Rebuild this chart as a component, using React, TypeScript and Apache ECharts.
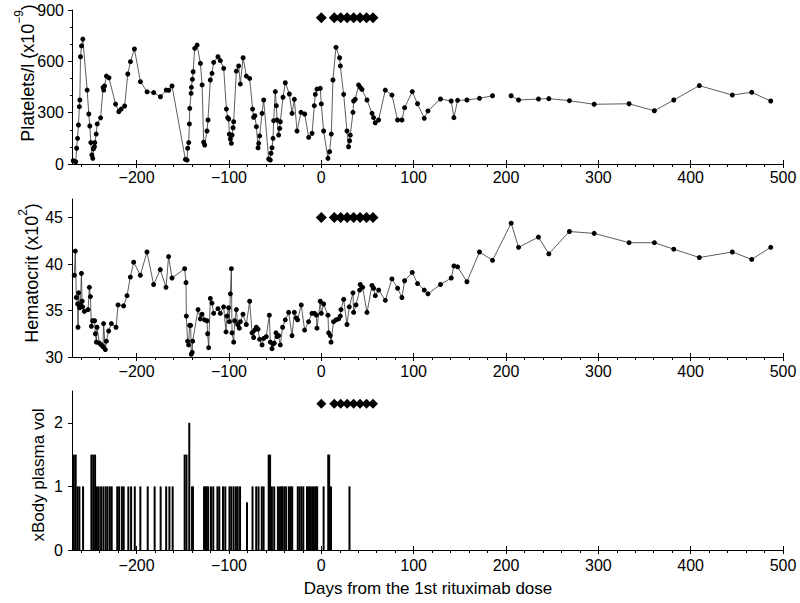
import React, { useEffect, useRef } from "react";
import * as echarts from "echarts";

const FONT = '"Liberation Sans", Arial, Helvetica, sans-serif';

// Platelets (x10^-9 /l) — day from 1st rituximab dose, value (null = gap in line)
const PLT_DAYS = [
  -268.7, -266, -265, -264, -263, -262, -261.5, -260.8, -259.7, -258.3,
  -253.6, -251.8, -250.7, -249.6, -248.5, -247.5, -246.8, -245.7, -245.3, -243.8,
  -242.7, -239, -236.3, -235.6, -234.8, -232.7, -230, -222.8, -219.3, -216.7,
  -213, -209.6, -206.7, -202.4, -195.9, -188.7, -181.5, -174.2, -168, -165.3,
  -161.7, -147.2, -145.3, -144.7, -143.6, -142.9, -142.5, -141, -140.7, -139.6,
  -138.8, -137.1, -134.5, -130.9, -129.1, -127.4, -126.3, -123.8, -122.7, -120.2,
  -118.4, -116.6, -111.9, -109.4, -105.7, -102.8, -101.4, -100.3, -99.6, -98.5,
  -97.4, -96.6, -95.6, -94.9, -92, -89.5, -87.7, -84.7, -81.2, -77.6,
  -74.4, -73.3, -72, -70.3, -68.5, -67.8, -66.8, -64.2, -62.4, -57,
  -55.2, -54.5, -53.4, -52.3, -51.6, -49.8, -48.7, -47.9, -46.2, -45.1,
  -44.4, -41.5, -39, -34.6, -31.7, -29.2, -26.3, -22, -18, -13.7,
  -10, -7.6, -6.5, -4.7, -1.1, 0, 2.5, 7.2, 9, 10.8,
  12.6, 15.9, 19.8, 20.6, 24.2, 27.8, 29.5, 30.6, 31.4, 34.3,
  35, 36.8, 40.4, 42.2, 44, 49.5, 54.9, 56.6, 58.4, 62,
  69.3, 76.5, 82.6, 87.3, 90.2, 98.5, 104.2, 111.5, 115.5, 129.1,
  140.7, 143.6, 147.6, 157.7, 171.3, 185.4, 195, 205.6, 213.6, 235.2,
  246.4, 268.7, 295.5, 333.3, 360.7, 381.7, 409.4, 445.1, 466.1, 486.7,
];
const PLT_VALUES = [
  19, 13, 92, 150, 228, 335, 374, 627, 690, 730,
  432, 292, 222, 125, 53, 33, 88, 101, 125, 175,
  234, 270, 448, 432, 456, 514, 504, 350, 306, 321,
  339, 526, 598, 672, 481, 422, 417, 393, 432, 431,
  456, 27, 23, 92, 125, 234, 325, 413, 448, 495,
  539, 676, 695, 588, 462, 127, 111, 193, 257, 491,
  530, 594, 627, 604, 559, 321, 271, 263, 174, 146,
  121, 169, 212, 247, 543, 573, 467, 621, 514, 500,
  321, 273, 282, 218, 95, 121, 164, 296, 374, 29,
  23, 63, 95, 150, 253, 423, 341, 257, 169, 208,
  247, 390, 475, 409, 296, 378, 193, 302, 292, 156,
  179, 341, 407, 438, 442, 351, 193, 33, 72, 175,
  491, 682, 621, 573, 407, 193, 101, 136, 169, 302,
  368, 378, 462, 448, 436, 374, 296, 271, 241, 257,
  432, 403, 257, 257, 329, 423, 352, 267, 310, 380,
  368, 271, 372, 374, 384, 399, null, 399, 374, 380,
  382, 370, 349, 352, 311, 374, 458, 403, 419, 368,
];

// Hematocrit (x10^2)
const HCT_DAYS = [
  -267.5, -266.4, -265.3, -263.9, -263.5, -262.8, -261.7, -260.9, -259.8, -259.1,
  -258.4, -256.6, -252.6, -251.2, -250.1, -249, -247.6, -245.5, -244.7, -243.6,
  -242.9, -240.4, -238.2, -236.4, -235.8, -233.9, -232.8, -230.3, -227.4, -222.3,
  -220.1, -214.1, -210.4, -206.8, -203.2, -196, -188.8, -181.6, -174.4, -168.2,
  -165.4, -161.7, -148, -146.5, -146.2, -144.8, -143.7, -142.6, -141.5, -140.8,
  -139.8, -139.3, -133.5, -131, -129.2, -126.4, -123.8, -123.1, -122, -120.2,
  -118.4, -116.6, -111.9, -109.4, -105.8, -103.2, -102.1, -100.4, -99.6, -98.5,
  -97.4, -96.7, -94.9, -93.8, -92, -90.6, -88.8, -87.7, -84.8, -81.2,
  -77.6, -75, -73.3, -72.2, -70.4, -68.5, -66.8, -64.2, -62.4, -59.6,
  -56.3, -55.2, -53.4, -52.3, -50.9, -49.1, -48, -46.2, -44.4, -41.9,
  -39, -35.4, -31.7, -29.2, -27.1, -25.7, -21.7, -18.1, -13.8, -10.1,
  -7.3, -5.4, -4.7, -1.1, 0, 2.5, 7.2, 7.9, 9.7, 10.5,
  13.3, 15.9, 18.7, 20.6, 21.3, 24.2, 27.8, 30.3, 34.3, 35,
  37.6, 41.5, 42.2, 44.7, 49.5, 54.9, 56.6, 58.5, 62.1, 69.3,
  76.5, 82.6, 87.3, 90.2, 98.5, 104.2, 111.5, 115.5, 129.1, 140.7,
  143.6, 147.6, 157.7, 171.3, 185.4, 205.6, 213.6, 235.2, 246.4, 268.7,
  295.5, 333.3, 360.7, 381.7, 409.4, 445.1, 466.1, 486.7,
];
const HCT_VALUES = [
  38.8, 41.4, 36.4, 35.7, 33.2, 36.9, 35.3, 35.6, 39.0, 36.0,
  35.4, 34.9, 35.1, 37.5, 36.5, 33.3, 33.9, 33.9, 32.5, 31.6,
  33.2, 31.5, 31.3, 31.1, 33.6, 30.8, 31.7, 32.8, 33.6, 33.2,
  35.6, 35.5, 36.6, 38.6, 40.2, 38.8, 41.3, 37.8, 39.4, 37.5,
  40.8, 38.5, 39.5, 38.0, 34.4, 31.7, 31.3, 33.4, 33.4, 30.3,
  30.5, 31.7, 35.1, 34.1, 34.6, 34.0, 33.9, 32.5, 31.0, 36.3,
  35.8, 34.7, 35.2, 34.7, 35.4, 32.7, 34.4, 35.3, 33.8, 36.8,
  39.5, 32.6, 31.6, 33.9, 35.1, 33.5, 33.1, 33.8, 34.6, 33.5,
  36.0, 32.6, 32.1, 32.9, 33.2, 33.0, 31.9, 31.3, 32.0, 32.2,
  34.5, 31.6, 30.9, 31.4, 31.5, 32.6, 32.2, 32.3, 31.3, 33.2,
  34.0, 34.8, 32.3, 34.8, 34.2, 34.0, 35.6, 32.9, 33.8, 34.7,
  34.7, 34.5, 33.1, 36.0, 34.7, 35.7, 34.5, 32.6, 32.3, 31.6,
  33.8, 34.0, 34.1, 34.4, 35.1, 36.2, 33.5, 35.4, 36.9, 34.8,
  35.6, 37.2, 37.8, 37.5, 34.8, 37.7, 37.4, 36.6, 37.2, 36.1,
  38.4, 37.4, 36.4, 38.2, 39.1, 37.9, 37.2, 36.8, 37.8, 38.5,
  39.8, 39.7, 38.1, 41.3, 40.4, 44.4, 41.8, 42.9, 41.1, 43.5,
  43.3, 42.3, 42.3, 41.6, 40.7, 41.3, 40.5, 41.8,
];

// Plasma exchange volume (x body plasma volume)
const PEX_DAYS = [
  -268, -266, -264, -262, -258, -249, -247, -245, -243, -241,
  -238.5, -236, -233.5, -231.5, -229, -227, -221, -219, -216, -214,
  -209, -206, -202, -196, -188, -180.5, -174, -168, -164.5, -161,
  -148, -146, -143, -140, -139, -127, -125.5, -124, -122.5, -119.5,
  -117, -112.5, -110.5, -106.5, -104, -99.5, -97.5, -95, -92.5, -90.5,
  -88, -80.5, -74.5, -70.5, -68, -64.5, -62.5, -57, -55.5, -53.5,
  -51, -47, -45, -43.5, -42, -40, -38, -35, -33, -31.5,
  -25.5, -23.5, -21.5, -19.5, -15.5, -13.5, -12, -10, -8, -6,
  -4.5, 2.5, 7.5, 8.5, 10.5, 30.5,
];
const PEX_VALUES = [
  1.5, 1.5, 1, 1, 1, 1.5, 1.5, 1.5, 1, 1,
  1, 1, 1, 1, 1, 1, 1, 1, 1, 1,
  1, 1, 1, 1, 1, 1, 1, 1, 1, 1,
  1.5, 1.5, 2, 1, 1, 1, 1, 1, 1, 1,
  1, 1, 1, 1, 1, 1, 1, 1, 1, 1,
  1, 0.75, 1, 1, 1, 1, 1, 1.5, 1.5, 1,
  1, 1, 1, 1, 1, 1, 1, 1, 1, 1,
  1, 1, 1, 1, 1, 1, 1, 1, 1, 1,
  1, 1, 1.5, 1.5, 1, 1,
];

// Rituximab doses (marker rows)
const DOSE_DAYS = [0, 14, 21, 28, 35, 42, 49, 56];
const DOSE_Y_PLT = 855;
const DOSE_Y_HCT = 45;
const DOSE_Y_PEX = 2.3;

// Axis ticks
const X_TICKS = [-200, -100, 0, 100, 200, 300, 400, 500];
const X_MINOR = [
  -260, -240, -220, -180, -160, -140, -120, -80, -60, -40, -20,
  20, 40, 60, 80, 120, 140, 160, 180, 220, 240, 260, 280,
  320, 340, 360, 380, 420, 440, 460, 480,
];
const HCT_TICKS = [30, 35, 40, 45];
const PEX_TICKS = [0, 1, 2];

const X_MIN = -270;
const X_MAX = 500;

function xAxesFor(gridIndex: number, labelMargin: number) {
  const base = {
    type: "value" as const,
    gridIndex,
    min: X_MIN,
    max: X_MAX,
    position: "bottom" as const,
    splitLine: { show: false },
  };
  return [
    {
      ...base,
      axisLine: { show: true, onZero: false, lineStyle: { color: "#000", width: 1 } },
      axisTick: { show: true, customValues: X_TICKS, length: 4, lineStyle: { color: "#000" } },
      axisLabel: {
        customValues: X_TICKS,
        formatter: (v: number) => String(v).replace("-", "\u2212"),
        fontSize: 16,
        fontFamily: FONT,
        color: "#000",
        margin: labelMargin,
      },
    },
    {
      ...base,
      axisLine: { show: false, onZero: false },
      axisLabel: { show: false },
      axisTick: { show: true, inside: true, customValues: X_TICKS, length: 4, lineStyle: { color: "#000" } },
    },
    {
      ...base,
      axisLine: { show: false, onZero: false },
      axisLabel: { show: false },
      axisTick: { show: true, customValues: X_MINOR, length: 3, lineStyle: { color: "#000" } },
    },
  ];
}

const pair = (days: number[], vals: (number | null)[]) =>
  days.map((d, i) => [d, vals[i] === null ? "-" : vals[i]]);

const doseData = (y: number) => DOSE_DAYS.map((d) => [d, y]);

export default function App() {
  const ref = useRef<HTMLDivElement>(null);

  useEffect(() => {
    if (!ref.current) return;
    const chart = echarts.init(ref.current, undefined, { renderer: "svg" });

    const yLabel = { fontSize: 16, fontFamily: FONT, color: "#000" };
    const yLine = { show: true, onZero: false, lineStyle: { color: "#000", width: 1 } };
    const diamondStyle = { color: "#000", opacity: 1 };

    const option: any = {
      animation: false,
      backgroundColor: "#fff",
      grid: [
        { left: 72, right: 17, top: 10, height: 154, outerBoundsMode: "none" },
        { left: 72, right: 17, top: 199, height: 158, outerBoundsMode: "none" },
        { left: 72, right: 17, top: 391, height: 159, outerBoundsMode: "none" },
      ],
      xAxis: [...xAxesFor(0, 5), ...xAxesFor(1, 6), ...xAxesFor(2, 7)],
      yAxis: [
        {
          type: "value",
          gridIndex: 0,
          min: 0,
          max: 900,
          interval: 300,
          axisLine: yLine,
          axisTick: { show: true, length: 4, lineStyle: { color: "#000" } },
          minorTick: { show: true, splitNumber: 3, length: 2, lineStyle: { color: "#000" } },
          axisLabel: { ...yLabel, margin: 8 },
          splitLine: { show: false },
          minorSplitLine: { show: false },
        },
        {
          type: "value",
          gridIndex: 1,
          min: 30,
          max: 47,
          axisLine: yLine,
          axisTick: { show: true, customValues: HCT_TICKS, length: 4, lineStyle: { color: "#000" } },
          axisLabel: { ...yLabel, customValues: HCT_TICKS, margin: 9 },
          splitLine: { show: false },
        },
        {
          type: "value",
          gridIndex: 2,
          min: 0,
          max: 2.5,
          axisLine: yLine,
          axisTick: { show: true, customValues: PEX_TICKS, length: 4, lineStyle: { color: "#000" } },
          axisLabel: { ...yLabel, customValues: PEX_TICKS, margin: 9 },
          splitLine: { show: false },
        },
      ],
      series: [
        {
          type: "line",
          xAxisIndex: 0,
          yAxisIndex: 0,
          data: pair(PLT_DAYS, PLT_VALUES),
          connectNulls: false,
          symbol: "circle",
          symbolSize: 5,
          itemStyle: { color: "#000", opacity: 1 },
          lineStyle: { color: "#333", width: 0.8 },
        },
        {
          type: "scatter",
          xAxisIndex: 0,
          yAxisIndex: 0,
          data: doseData(DOSE_Y_PLT),
          symbol: "diamond",
          symbolSize: [11, 11],
          itemStyle: diamondStyle,
        },
        {
          type: "line",
          xAxisIndex: 3,
          yAxisIndex: 1,
          data: pair(HCT_DAYS, HCT_VALUES),
          symbol: "circle",
          symbolSize: 5,
          itemStyle: { color: "#000", opacity: 1 },
          lineStyle: { color: "#333", width: 0.8 },
        },
        {
          type: "scatter",
          xAxisIndex: 3,
          yAxisIndex: 1,
          data: doseData(DOSE_Y_HCT),
          symbol: "diamond",
          symbolSize: [11, 11],
          itemStyle: diamondStyle,
        },
        {
          type: "bar",
          xAxisIndex: 6,
          yAxisIndex: 2,
          data: pair(PEX_DAYS, PEX_VALUES),
          barWidth: 2,
          itemStyle: { color: "#000" },
        },
        {
          type: "scatter",
          xAxisIndex: 6,
          yAxisIndex: 2,
          data: doseData(DOSE_Y_PEX),
          symbol: "diamond",
          symbolSize: [10, 10],
          itemStyle: diamondStyle,
        },
      ],
      graphic: [
        {
          type: "text",
          x: 25,
          y: 73,
          rotation: Math.PI / 2,
          style: {
            text: "{n|Platelets/l (x10}{s|\u22129}{n|)}",
            align: "center",
            verticalAlign: "middle",
            fill: "#000",
            rich: {
              n: { fontSize: 18, fontFamily: FONT, fill: "#000", lineHeight: 24, verticalAlign: "bottom" },
              s: { fontSize: 12, fontFamily: FONT, fill: "#000", lineHeight: 12, verticalAlign: "top" },
            },
          },
        },
        {
          type: "text",
          x: 29,
          y: 273,
          rotation: Math.PI / 2,
          style: {
            text: "{n|Hematocrit (x10}{s|2}{n|)}",
            align: "center",
            verticalAlign: "middle",
            fill: "#000",
            rich: {
              n: { fontSize: 18, fontFamily: FONT, fill: "#000", lineHeight: 24, verticalAlign: "bottom" },
              s: { fontSize: 12, fontFamily: FONT, fill: "#000", lineHeight: 12, verticalAlign: "top" },
            },
          },
        },
        {
          type: "text",
          x: 38,
          y: 475,
          rotation: Math.PI / 2,
          style: {
            text: "xBody plasma vol",
            font: `17px ${FONT}`,
            align: "center",
            verticalAlign: "middle",
            fill: "#000",
          },
        },
        {
          type: "text",
          x: 428,
          y: 588,
          style: {
            text: "Days from the 1st rituximab dose",
            font: `17px ${FONT}`,
            align: "center",
            verticalAlign: "middle",
            fill: "#000",
          },
        },
      ],
    };

    chart.setOption(option);
    return () => {
      chart.dispose();
    };
  }, []);

  return (
    <div
      ref={ref}
      style={{ position: "fixed", left: 0, top: 0, width: 800, height: 603, background: "#fff" }}
    />
  );
}
